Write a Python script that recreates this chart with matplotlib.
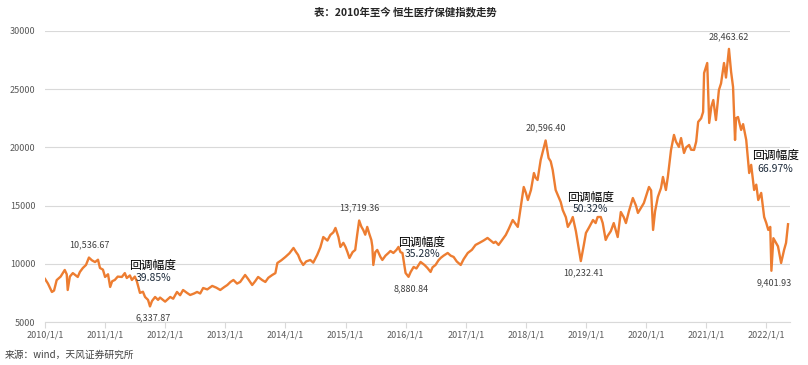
import matplotlib
matplotlib.use('Agg')
import matplotlib.pyplot as plt
import pandas as pd

plt.rcParams['font.family'] = ['Noto Sans CJK SC', 'DejaVu Sans']

# 恒生医疗保健指数
dates = [
    '2010-01-01', '2010-01-19', '2010-02-12', '2010-02-25', '2010-03-13', '2010-04-06',
    '2010-05-01', '2010-05-13', '2010-05-19', '2010-06-01', '2010-06-19', '2010-07-19',
    '2010-08-01', '2010-08-19', '2010-09-07', '2010-09-25', '2010-10-13', '2010-11-01',
    '2010-11-19', '2010-12-01', '2010-12-19', '2011-01-01', '2011-01-19', '2011-02-01',
    '2011-02-13', '2011-03-01', '2011-03-19', '2011-04-13', '2011-05-01', '2011-05-13',
    '2011-06-01', '2011-06-13', '2011-07-01', '2011-07-13', '2011-08-01', '2011-08-19',
    '2011-09-01', '2011-09-19', '2011-10-01', '2011-10-13', '2011-11-01', '2011-11-19',
    '2011-12-01', '2011-12-19', '2012-01-01', '2012-02-01', '2012-02-19', '2012-03-13',
    '2012-04-01', '2012-04-19', '2012-05-13', '2012-06-01', '2012-06-25', '2012-07-13',
    '2012-08-01', '2012-08-19', '2012-09-13', '2012-10-13', '2012-11-07', '2012-12-01',
    '2012-12-25', '2013-01-13', '2013-02-01', '2013-02-19', '2013-03-13', '2013-04-01',
    '2013-05-01', '2013-05-19', '2013-06-13', '2013-07-01', '2013-07-19', '2013-08-13',
    '2013-09-01', '2013-09-19', '2013-10-13', '2013-11-01', '2013-11-13', '2013-12-07',
    '2014-01-01', '2014-01-25', '2014-02-19', '2014-03-07', '2014-03-19', '2014-04-01',
    '2014-04-19', '2014-05-07', '2014-06-01', '2014-06-19', '2014-07-13', '2014-08-01',
    '2014-08-19', '2014-09-13', '2014-10-01', '2014-10-19', '2014-11-01', '2014-11-19',
    '2014-12-01', '2014-12-19', '2015-01-01', '2015-01-13', '2015-01-25', '2015-02-13',
    '2015-03-01', '2015-03-13', '2015-03-25', '2015-04-07', '2015-04-19', '2015-05-01',
    '2015-05-13', '2015-05-25', '2015-06-07', '2015-06-13', '2015-06-19', '2015-07-01',
    '2015-07-13', '2015-08-01', '2015-08-13', '2015-09-01', '2015-09-19', '2015-10-01',
    '2015-10-19', '2015-11-07', '2015-11-19', '2015-12-01', '2015-12-13', '2016-01-01',
    '2016-01-19', '2016-02-01', '2016-02-19', '2016-03-07', '2016-04-01', '2016-04-25',
    '2016-05-13', '2016-06-01', '2016-06-13', '2016-07-01', '2016-07-19', '2016-08-01',
    '2016-08-19', '2016-09-13', '2016-10-01', '2016-10-19', '2016-11-07', '2016-12-01',
    '2016-12-19', '2017-01-13', '2017-02-07', '2017-03-01', '2017-03-25', '2017-04-19',
    '2017-05-13', '2017-06-01', '2017-06-19', '2017-07-01', '2017-07-19', '2017-08-13',
    '2017-09-01', '2017-09-19', '2017-10-13', '2017-11-01', '2017-11-13', '2017-12-01',
    '2017-12-19', '2018-01-01', '2018-01-13', '2018-02-01', '2018-02-19', '2018-03-01',
    '2018-03-13', '2018-04-01', '2018-04-13', '2018-05-01', '2018-05-19', '2018-06-01',
    '2018-06-13', '2018-07-01', '2018-07-19', '2018-08-01', '2018-08-13', '2018-09-01',
    '2018-09-13', '2018-10-01', '2018-10-13', '2018-11-01', '2018-11-13', '2018-12-01',
    '2018-12-19', '2019-01-01', '2019-01-19', '2019-02-13', '2019-03-01', '2019-03-13',
    '2019-04-01', '2019-04-13', '2019-05-01', '2019-05-13', '2019-06-01', '2019-06-19',
    '2019-07-13', '2019-08-01', '2019-08-19', '2019-09-01', '2019-09-19', '2019-10-13',
    '2019-11-01', '2019-11-13', '2019-12-01', '2019-12-19', '2020-01-01', '2020-01-19',
    '2020-02-01', '2020-02-13', '2020-02-25', '2020-03-13', '2020-04-01', '2020-04-13',
    '2020-05-01', '2020-05-13', '2020-06-01', '2020-06-19', '2020-07-01', '2020-07-19',
    '2020-08-01', '2020-08-19', '2020-09-01', '2020-09-19', '2020-10-01', '2020-10-19',
    '2020-11-01', '2020-11-13', '2020-12-01', '2020-12-13', '2020-12-19', '2021-01-07',
    '2021-01-19', '2021-02-01', '2021-02-13', '2021-03-01', '2021-03-19', '2021-04-01',
    '2021-04-19', '2021-05-01', '2021-05-19', '2021-06-01', '2021-06-13', '2021-06-25',
    '2021-07-01', '2021-07-13', '2021-08-01', '2021-08-13', '2021-09-01', '2021-09-19',
    '2021-10-01', '2021-10-19', '2021-11-01', '2021-11-13', '2021-12-01', '2021-12-19',
    '2022-01-01', '2022-01-13', '2022-01-25', '2022-02-01', '2022-02-13', '2022-03-01',
    '2022-03-13', '2022-04-01', '2022-04-19', '2022-05-01', '2022-05-13',
]
values = [
    8700, 8300, 7580, 7700, 8600, 8900,
    9470, 9100, 7750, 8900, 9200, 8870,
    9300, 9640, 9900, 10536.67, 10300, 10150,
    10350, 9640, 9500, 8870, 9100, 8010,
    8500, 8610, 8900, 8870, 9200, 8780,
    9000, 8610, 8900, 8500, 7500, 7600,
    7150, 6900, 6337.87, 6800, 7150, 6900,
    7100, 6900, 6750, 7150, 7000, 7580,
    7300, 7750, 7500, 7320, 7450, 7580,
    7450, 7920, 7800, 8100, 7950, 7750,
    8000, 8180, 8440, 8610, 8300, 8440,
    9040, 8700, 8180, 8500, 8870, 8600,
    8440, 8800, 9040, 9200, 10070, 10300,
    10590, 10900, 11360, 11000, 10760, 10300,
    9900, 10200, 10330, 10100, 10760, 11400,
    12300, 12000, 12480, 12700, 13080, 12300,
    11450, 11800, 11450, 11000, 10500, 11000,
    11190, 12500, 13719.36, 13200, 12900, 12500,
    13170, 12600, 12050, 11500, 9900, 11000,
    11190, 10600, 10330, 10700, 10930, 11100,
    10930, 11200, 11450, 11000, 10930, 9210,
    8880.84, 9300, 9730, 9600, 10160, 9900,
    9640, 9300, 9700, 9900, 10300, 10500,
    10700, 10930, 10700, 10590, 10200, 9900,
    10400, 10930, 11200, 11620, 11800, 12000,
    12220, 12000, 11790, 11900, 11620, 12100,
    12480, 13000, 13760, 13400, 13170, 14880,
    16600, 16100, 15480, 16340, 17800, 17400,
    17200, 18920, 19600, 20596.40, 19090, 18800,
    18060, 16340, 15740, 15300, 14620, 14000,
    13170, 13600, 14020, 12800, 11790, 10232.41,
    11600, 12650, 13100, 13760, 13500, 14020,
    14020, 13500, 12050, 12400, 12800, 13500,
    12300, 14450, 14000, 13500, 14500, 15650,
    15000, 14370, 14800, 15220, 15800, 16600,
    16300, 12910, 14500, 15740, 16500, 17460,
    16340, 17500, 19780, 21070, 20500, 20040,
    20800, 19520, 20000, 20210, 19800, 19780,
    20500, 22190, 22500, 23040, 26390, 27250,
    22100, 23500, 24070, 22350, 24930, 25500,
    27250, 26000, 28463.62, 26500, 25190, 20640,
    22500, 22610, 21500, 22000, 20640, 17800,
    18500, 16340, 16800, 15480, 16090, 14020,
    13500, 12910, 13170, 9401.93, 12200, 11790,
    11500, 10070, 11190, 11800, 13400,
]

# labelled extremes: (date, offset direction) -> text from values
peak_dates = ['2010-09-25', '2015-03-25', '2018-05-01', '2021-05-19']
trough_dates = ['2011-10-01', '2016-01-19', '2018-12-01', '2022-02-01']

drawdown_pcts = ['39.85%', '35.28%', '50.32%', '66.97%']

year_ticks = ['2010-01-01', '2011-01-01', '2012-01-01', '2013-01-01', '2014-01-01',
              '2015-01-01', '2016-01-01', '2017-01-01', '2018-01-01', '2019-01-01',
              '2020-01-01', '2021-01-01', '2022-01-01']
year_labels = ['2010/1/1', '2011/1/1', '2012/1/1', '2013/1/1', '2014/1/1', '2015/1/1',
               '2016/1/1', '2017/1/1', '2018/1/1', '2019/1/1', '2020/1/1', '2021/1/1',
               '2022/1/1']

s = pd.Series(values, index=pd.to_datetime(dates))

W, H = 808, 365
fig = plt.figure(figsize=(W / 100, H / 100), dpi=100)
ax = fig.add_axes([45 / W, 1 - 322 / H, (790 - 45) / W, (322 - 31) / H])

ax.plot(s.index, s.values, color='#ED7D31', lw=1.7, solid_joinstyle='round')

ax.set_ylim(5000, 30000)
ax.set_xlim(pd.Timestamp('2010-01-01'), pd.Timestamp('2022-05-25'))
ax.set_yticks(range(5000, 30001, 5000))
ax.yaxis.grid(True, color='#D9D9D9', lw=0.8)
ax.set_axisbelow(True)
for side in ['left', 'right', 'top']:
    ax.spines[side].set_visible(False)
ax.spines['bottom'].set_color('#D9D9D9')
ax.spines['bottom'].set_linewidth(0.8)

ax.set_xticks(pd.to_datetime(year_ticks))
ax.set_xticklabels(year_labels)
ax.tick_params(axis='x', length=4, color='#D9D9D9', width=0.8, labelsize=6.5,
               labelcolor='#595959', pad=2)
ax.tick_params(axis='y', length=0, labelsize=6.5, labelcolor='#595959', pad=7)

for d in peak_dates:
    t = pd.Timestamp(d)
    ax.annotate(f'{s[t]:,.2f}', (t, s[t]), xytext=(0, 9), textcoords='offset points',
                ha='center', va='center', fontsize=6.5, color='#404040')
for d in trough_dates:
    t = pd.Timestamp(d)
    ax.annotate(f'{s[t]:,.2f}', (t, s[t]), xytext=(2, -8.5), textcoords='offset points',
                ha='center', va='center', fontsize=6.5, color='#404040')

# 回调幅度 labels (pixel positions from the reference)
label_pos = [(129, 265, 153, 278), (398, 242, 422, 254), (567, 197, 590, 209), (752, 155, 775, 169)]
for (lx, ly, px, py), pct in zip(label_pos, drawdown_pcts):
    fig.text(lx / W, 1 - ly / H, '回调幅度', fontsize=8.5, color='black', ha='left', va='center')
    fig.text(px / W, 1 - py / H, pct, fontsize=7.5, color='#1F2D3D', ha='center', va='center')

fig.text(405 / W, 1 - 12 / H, '表：2010年至今 恒生医疗保健指数走势', fontsize=7.5,
         fontweight='bold', ha='center', va='center', color='#262626')
fig.text(5 / W, 1 - 355 / H, '来源：wind，天风证券研究所', fontsize=7, ha='left',
         va='center', color='#404040', style='italic')

fig.savefig('out.png', dpi=100)
